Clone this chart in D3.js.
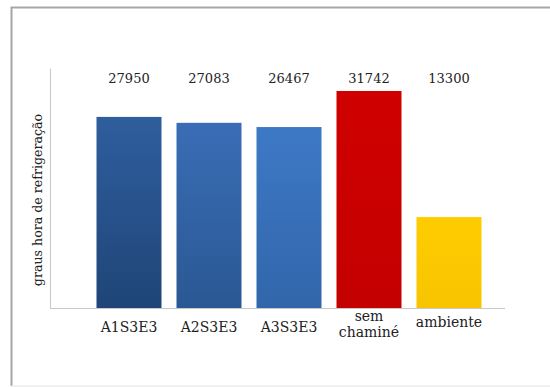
<!DOCTYPE html>
<html>
<head>
<meta charset="utf-8">
<script src="https://cdn.jsdelivr.net/npm/d3@7"></script>
<style>
  html, body { margin: 0; padding: 0; background: #fff; }
  svg { display: block; }
</style>
</head>
<body>
<svg id="chart" width="550" height="387"></svg>
<script>
// Graus hora de refrigeração por configuração
const categories = ["A1S3E3", "A2S3E3", "A3S3E3", "sem chaminé", "ambiente"];
const values = [27950, 27083, 26467, 31742, 13300];
const topColors = ["#2f5e9e", "#3a6db6", "#3e79c6", "#d00000", "#ffcc00"];
const bottomColors = ["#1f4577", "#2a5893", "#3166aa", "#c40000", "#f8c400"];
const yMax = 35000;
const yLabel = "graus hora de refrigeração";

const FONT = "DejaVu Serif";

const svg = d3.select("#chart");

// outer frame
svg.append("path")
  .attr("d", "M11.5,386 V7.5 H550")
  .attr("fill", "none").attr("stroke", "#a6a6a6").attr("stroke-width", 2);
svg.append("line")
  .attr("x1", 11).attr("x2", 550).attr("y1", 386).attr("y2", 386)
  .attr("stroke", "#e4e4e4");

const x = d3.scaleBand().domain(categories).range([89, 489])
  .paddingInner(0.1875).paddingOuter(0.09375);
const y = d3.scaleLinear().domain([0, yMax]).range([308, 68.7]);

// gradients
const defs = svg.append("defs");
categories.forEach((c, i) => {
  const g = defs.append("linearGradient").attr("id", "g" + i)
    .attr("x1", 0).attr("y1", 0).attr("x2", 0).attr("y2", 1);
  g.append("stop").attr("offset", "0%").attr("stop-color", topColors[i]);
  g.append("stop").attr("offset", "100%").attr("stop-color", bottomColors[i]);
});

// axes lines
svg.append("line")
  .attr("x1", 50.5).attr("x2", 50.5).attr("y1", y(yMax)).attr("y2", y(0))
  .attr("stroke", "#c8c8c8");
svg.append("line")
  .attr("x1", 50).attr("x2", 505).attr("y1", y(0) + 0.5).attr("y2", y(0) + 0.5)
  .attr("stroke", "#c8c8c8");

// bars
svg.selectAll("rect.bar").data(values).join("rect")
  .attr("class", "bar")
  .attr("x", (d, i) => x(categories[i]))
  .attr("y", d => y(d))
  .attr("width", x.bandwidth())
  .attr("height", d => y(0) - y(d))
  .attr("fill", (d, i) => `url(#g${i})`);

// value labels along the top
svg.selectAll("text.val").data(values).join("text")
  .attr("class", "val")
  .attr("x", (d, i) => x(categories[i]) + x.bandwidth() / 2)
  .attr("y", 83)
  .attr("text-anchor", "middle")
  .attr("font-family", FONT)
  .attr("font-size", 13).attr("fill", "#222")
  .text(d => d);

// category labels
categories.forEach((c, i) => {
  const cx = x(c) + x.bandwidth() / 2;
  const words = c.split(" ");
  const label = (txt, yy) => svg.append("text").attr("text-anchor", "middle")
    .attr("font-family", FONT)
    .attr("font-size", 14).attr("fill", "#222")
    .attr("x", cx).attr("y", yy).text(txt);
  if (words.length > 1) {
    label(words[0], 321);
    label(words[1], 337);
  } else {
    label(c, i === categories.length - 1 ? 327 : 332);
  }
});

// y axis title
svg.append("text")
  .attr("transform", "translate(42,200) rotate(-90)")
  .attr("text-anchor", "middle")
  .attr("font-family", FONT)
  .attr("font-size", 12.6).attr("fill", "#222")
  .text(yLabel);
</script>
</body>
</html>
